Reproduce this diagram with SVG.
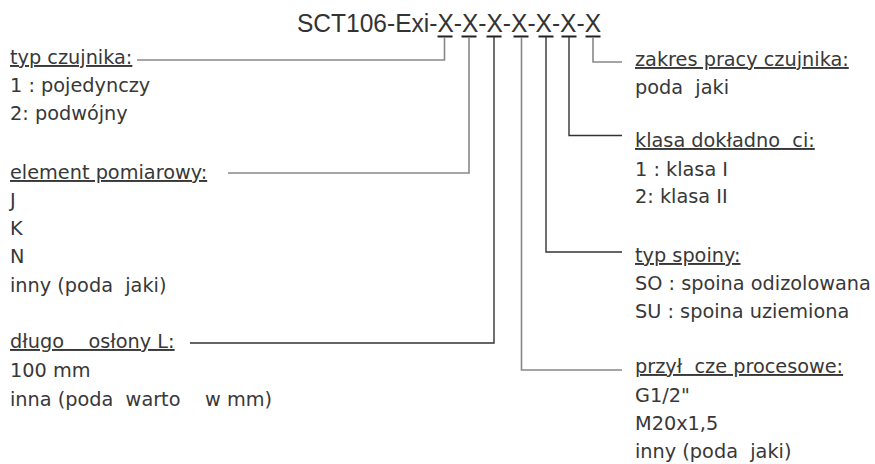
<svg xmlns="http://www.w3.org/2000/svg" width="875" height="464" viewBox="0 0 875 464">
<style>
  .t { font-family: "DejaVu Sans", "Liberation Sans", sans-serif; font-size: 19.3px; fill: #383838; white-space: pre; }
  .h { text-decoration: underline; }
  .title { font-family: "Liberation Sans", Arial, sans-serif; font-size: 25px; fill: #333; }
  .bar { stroke: #222; stroke-width: 2; }
  .g { fill: none; stroke: #888; stroke-width: 1.6; }
  .d { fill: none; stroke: #333; stroke-width: 1.4; }
</style>
<rect width="875" height="464" fill="#fff"/>

<g id="title">
  <text class="title" x="297" y="32" textLength="304" lengthAdjust="spacingAndGlyphs">SCT106-Exi-X-X-X-X-X-X-X</text>
  <line class="bar" x1="437.5" y1="36.5" x2="452.5" y2="36.5"/>
  <line class="bar" x1="461.5" y1="36.5" x2="476.5" y2="36.5"/>
  <line class="bar" x1="486.5" y1="36.5" x2="501.5" y2="36.5"/>
  <line class="bar" x1="513.5" y1="36.5" x2="528.5" y2="36.5"/>
  <line class="bar" x1="538.5" y1="36.5" x2="553.5" y2="36.5"/>
  <line class="bar" x1="561.5" y1="36.5" x2="576.5" y2="36.5"/>
  <line class="bar" x1="585.5" y1="36.5" x2="600.5" y2="36.5"/>
</g>

<g id="connectors">
  <polyline class="g" points="444.5,37 444.5,60 137,60"/>
  <polyline class="g" points="469,37 469,173 228,173"/>
  <polyline class="d" points="494,37 494,343 190,343"/>
  <polyline class="g" points="521.5,37 521.5,370 622,370"/>
  <polyline class="d" points="546,37 546,252 622,252"/>
  <polyline class="d" points="569,37 569,135.5 622,135.5"/>
  <polyline class="g" points="593,37 593,62 622,62"/>
</g>

<g id="typ-czujnika">
  <text class="t h" x="10" y="64">typ czujnika:</text>
  <text class="t" x="10" y="92">1 : pojedynczy</text>
  <text class="t" x="10" y="120">2: podwójny</text>
</g>

<g id="element-pomiarowy">
  <text class="t h" x="10" y="179">element pomiarowy:</text>
  <text class="t" x="10" y="207">J</text>
  <text class="t" x="10" y="235">K</text>
  <text class="t" x="10" y="263">N</text>
  <text class="t" x="10" y="292">inny (poda  jaki)</text>
</g>

<g id="dlugosc-oslony">
  <text class="t h" x="10" y="348">długo    osłony L:</text>
  <text class="t" x="10" y="377">100 mm</text>
  <text class="t" x="10" y="406">inna (poda  warto    w mm)</text>
</g>

<g id="zakres-pracy">
  <text class="t h" x="635" y="66">zakres pracy czujnika:</text>
  <text class="t" x="635" y="94">poda  jaki</text>
</g>

<g id="klasa-dokladnosci">
  <text class="t h" x="635" y="147">klasa dokładno  ci:</text>
  <text class="t" x="635" y="176">1 : klasa I</text>
  <text class="t" x="635" y="203">2: klasa II</text>
</g>

<g id="typ-spoiny">
  <text class="t h" x="635" y="262">typ spoiny:</text>
  <text class="t" x="635" y="290">SO : spoina odizolowana</text>
  <text class="t" x="635" y="318">SU : spoina uziemiona</text>
</g>

<g id="przylacze">
  <text class="t h" x="635" y="373">przył  cze procesowe:</text>
  <text class="t" x="635" y="402">G1/2"</text>
  <text class="t" x="635" y="430">M20x1,5</text>
  <text class="t" x="635" y="458">inny (poda  jaki)</text>
</g>
</svg>
